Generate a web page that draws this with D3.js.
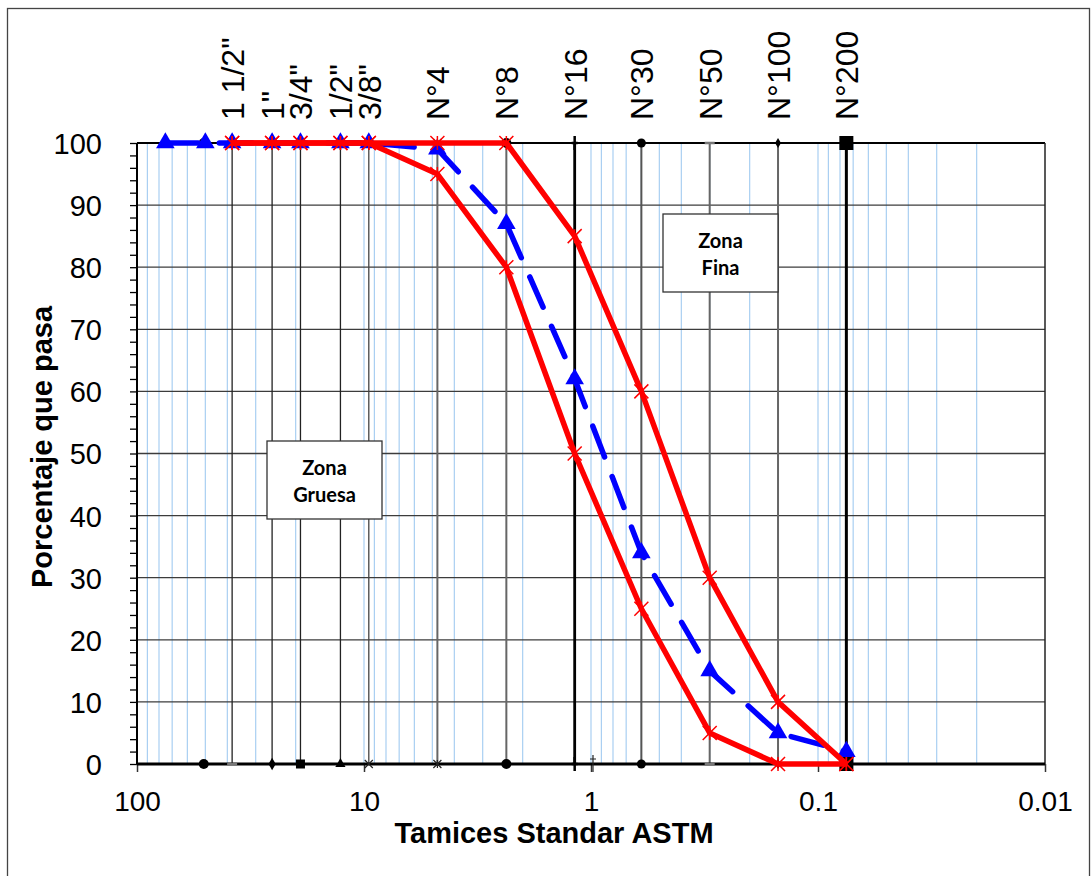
<!DOCTYPE html>
<html>
<head>
<meta charset="utf-8">
<script src="https://cdn.jsdelivr.net/npm/d3@7"></script>
<style>
  html, body { margin: 0; padding: 0; background: #fff; }
  svg { display: block; }
  text { font-family: "Liberation Sans", Arial, sans-serif; }
</style>
</head>
<body>
<svg id="chart" width="1091" height="876"></svg>
<script>
// ---------------- DATA ----------------
const sieveLabels = ['1 1/2"', '1"', '3/4"', '1/2"', '3/8"', 'N°4', 'N°8', 'N°16', 'N°30', 'N°50', 'N°100', 'N°200'];
const sieveSizes  = [38.1, 25.4, 19.05, 12.7, 9.525, 4.75, 2.36, 1.18, 0.6, 0.3, 0.15, 0.075];

// sample curve (blue dashed)
const sampleSizes   = [75, 50, 38.1, 25.4, 19.05, 12.7, 9.525, 4.75, 2.36, 1.18, 0.6, 0.3, 0.15, 0.075];
const samplePassing = [100, 100, 100, 100, 100, 100, 100, 99, 87, 62, 34, 15, 5, 2];

// limit curves (red)
const limitSizes  = [38.1, 25.4, 19.05, 12.7, 9.525, 4.75, 2.36, 1.18, 0.6, 0.3, 0.15, 0.075];
const upperLimit  = [100, 100, 100, 100, 100, 100, 100, 85, 60, 30, 10, 0];
const lowerLimit  = [100, 100, 100, 100, 100, 95, 80, 50, 25, 5, 0, 0];

// auxiliary vertical "sieve" series (each from 0 to 100) with their marker shapes
const auxSizes   = [50.8, 38.1, 25.4, 19.05, 12.7, 9.525, 4.75, 2.36, 1.18, 0.6, 0.3, 0.15, 0.075];
const auxMarkers = ['circle', 'dash', 'diamond', 'square', 'triangle', 'x', 'star', 'circle', 'plus', 'circle', 'dash', 'diamondS', 'squareL'];
const auxHasLine = [false, true, true, true, true, true, true, true, true, true, true, true, true];
const extraMarkerSizes = [0.98];

const xTickValues = [100, 10, 1, 0.1, 0.01];
const xTickLabels = ['100', '10', '1', '0.1', '0.01'];
const yTickValues = [0, 10, 20, 30, 40, 50, 60, 70, 80, 90, 100];

const xTitle = 'Tamices Standar ASTM';
const yTitle = 'Porcentaje que pasa';
const boxCoarse = ['Zona', 'Gruesa'];
const boxFine = ['Zona', 'Fina'];

// ---------------- LAYOUT ----------------
const svg = d3.select('#chart');
const L = 137, R = 1045, T = 143, B = 764;
const x = d3.scaleLog().domain([100, 0.01]).range([L, R]);
const y = d3.scaleLinear().domain([0, 100]).range([B, T]);

// outer frame
svg.append('rect').attr('x', 7.5).attr('y', 8.5).attr('width', 1082).attr('height', 890)
  .attr('fill', 'none').attr('stroke', '#444').attr('stroke-width', 1.3);

// light-blue log gridlines
const logVals = [];
for (let k = -2; k <= 1; k++) for (let m = 1; m <= 9; m++) {
  const v = m * Math.pow(10, k);
  if (v > 0.01 && v < 100) logVals.push(v);
}
svg.append('g').selectAll('line').data(logVals).join('line')
  .attr('x1', d => x(d)).attr('x2', d => x(d)).attr('y1', T).attr('y2', B)
  .attr('stroke', '#a9cff2').attr('stroke-width', 1.2);

// horizontal gridlines
svg.append('g').selectAll('line').data(yTickValues.filter(v => v > 0 && v < 100)).join('line')
  .attr('x1', L).attr('x2', R).attr('y1', d => y(d)).attr('y2', d => y(d))
  .attr('stroke', '#3c3c3c').attr('stroke-width', 1.3);

// sieve vertical lines
const lineStyle = {
  38.1: ['#222', 1.3], 25.4: ['#222', 1.3], 19.05: ['#222', 1.3], 12.7: ['#222', 1.3], 9.525: ['#444', 1.3],
  4.75: ['#666', 2], 2.36: ['#666', 2], 1.18: ['#000', 2.8], 0.6: ['#555', 2], 0.3: ['#666', 2],
  0.15: ['#666', 2], 0.075: ['#000', 3]
};
const auxData = auxSizes.map((s, i) => ({ s, m: auxMarkers[i], line: auxHasLine[i] }));
svg.append('g').selectAll('line').data(auxData.filter(d => d.line)).join('line')
  .attr('x1', d => x(d.s)).attr('x2', d => x(d.s)).attr('y1', y(0)).attr('y2', y(100))
  .attr('stroke', d => lineStyle[d.s][0]).attr('stroke-width', d => lineStyle[d.s][1]);

// plot frame
svg.append('line').attr('x1', L).attr('x2', R).attr('y1', T).attr('y2', T).attr('stroke', '#000').attr('stroke-width', 2);
svg.append('line').attr('x1', R).attr('x2', R).attr('y1', T).attr('y2', B).attr('stroke', '#222').attr('stroke-width', 1.5);
svg.append('line').attr('x1', L).attr('x2', L).attr('y1', T).attr('y2', B).attr('stroke', '#000').attr('stroke-width', 2);

// y axis (ticks every 2, labels every 10)
const yAxis = d3.axisLeft(y).tickValues(d3.range(0, 101, 2)).tickSize(7)
  .tickFormat(d => yTickValues.includes(d) ? d : '');
const gy = svg.append('g').attr('transform', `translate(${L},0)`).call(yAxis);
gy.select('.domain').remove();
gy.selectAll('.tick line').attr('stroke', '#000').attr('stroke-width', 1.3);
gy.selectAll('.tick text').attr('x', -35).attr('dy', '0.36em')
  .style('font-family', '"Liberation Sans", Arial, sans-serif').style('font-size', '29px').attr('fill', '#000');

// x axis
const xAxis = d3.axisBottom(x).tickValues(xTickValues).tickSize(8)
  .tickFormat((d, i) => xTickLabels[i]);
const gx = svg.append('g').attr('transform', `translate(0,${B})`).call(xAxis);
gx.select('.domain').remove();
gx.selectAll('.tick line').attr('stroke', '#333').attr('stroke-width', 1.5);
gx.selectAll('.tick text').attr('y', 47).attr('dy', 0)
  .style('font-family', '"Liberation Sans", Arial, sans-serif').style('font-size', '28px').attr('fill', '#000');
svg.append('line').attr('x1', L).attr('x2', R).attr('y1', B).attr('y2', B).attr('stroke', '#000').attr('stroke-width', 3);

// top sieve labels
svg.append('g').selectAll('text').data(sieveSizes).join('text')
  .attr('transform', (d, i) => `translate(${x(d) + 12},120) rotate(-90)`)
  .attr('text-anchor', 'start')
  .style('font-size', '32px').attr('fill', '#000')
  .text((d, i) => sieveLabels[i]);

// aux markers (at 0 and 100)
function markerPath(m) {
  switch (m) {
    case 'dash': return 'M-5,0L5,0';
    case 'x': return 'M-4,-4L4,4M-4,4L4,-4';
    case 'star': return 'M-4,-4L4,4M-4,4L4,-4M0,-4L0,4';
    case 'plus': return 'M0,-7L0,7M-3,0L3,0';
    case 'dagger': return 'M0,-9L0,8M-3,-5L3,-5';
    default: return null;
  }
}
const auxPts = [];
auxData.forEach(d => { auxPts.push({ s: d.s, v: 0, m: d.m }); auxPts.push({ s: d.s, v: 100, m: d.m }); });
extraMarkerSizes.forEach(s => auxPts.push({ s, v: 0, m: 'dagger' }));
const gm = svg.append('g');
auxPts.forEach(p => {
  const g = gm.append('g').attr('transform', `translate(${x(p.s)},${y(p.v)})`);
  if (p.m === 'circle') g.append('circle').attr('r', p.s === 0.6 ? 4.5 : 5).attr('fill', '#000');
  else if (p.m === 'diamond') g.append('path').attr('d', d3.symbol(d3.symbolDiamond, 45)()).attr('fill', '#000');
  else if (p.m === 'diamondS') g.append('path').attr('d', d3.symbol(d3.symbolDiamond, 30)()).attr('fill', '#000');
  else if (p.m === 'square') g.append('rect').attr('x', -4.5).attr('y', -4.5).attr('width', 9).attr('height', 9).attr('fill', '#000');
  else if (p.m === 'squareL') g.append('rect').attr('x', -7).attr('y', -7).attr('width', 14).attr('height', 14).attr('fill', '#000');
  else if (p.m === 'triangle') g.append('path').attr('d', d3.symbol(d3.symbolTriangle, 45)()).attr('fill', '#000');
  else {
    g.append('path').attr('d', markerPath(p.m)).attr('fill', 'none')
      .attr('stroke', p.m === 'dash' ? '#777' : (p.m === 'plus' ? '#000' : '#222'))
      .attr('stroke-width', p.m === 'dash' ? 2.5 : (p.m === 'plus' ? 2.5 : 1.2));
  }
});

// sample curve (blue dashed)
const sample = sampleSizes.map((s, i) => ({ s, v: samplePassing[i] }));
const lineGen = d3.line().x(d => x(d.s)).y(d => y(d.v));
svg.append('path').datum(sample).attr('d', lineGen)
  .attr('fill', 'none').attr('stroke', '#0000ff').attr('stroke-width', 5.5)
  .attr('stroke-dasharray', '33 21').attr('stroke-linecap', 'round').attr('stroke-linejoin', 'round');
svg.append('g').selectAll('path').data(sample).join('path')
  .attr('transform', d => `translate(${x(d.s)},${y(d.v)})`)
  .attr('d', d3.symbol(d3.symbolTriangle, 150)()).attr('fill', '#0000ff');

// limits (red)
[upperLimit, lowerLimit].forEach(arr => {
  const data = limitSizes.map((s, i) => ({ s, v: arr[i] }));
  svg.append('path').datum(data).attr('d', lineGen)
    .attr('fill', 'none').attr('stroke', '#ff0000').attr('stroke-width', 5.5).attr('stroke-linejoin', 'round');
  svg.append('g').selectAll('path').data(data).join('path')
    .attr('transform', d => `translate(${x(d.s)},${y(d.v)})`)
    .attr('d', 'M-7,-7L7,7M-7,7L7,-7M0,-7L0,7')
    .attr('fill', 'none').attr('stroke', '#ff0000').attr('stroke-width', 1.5);
});

// text boxes
function box(x0, y0, w, h, lines) {
  svg.append('rect').attr('x', x0).attr('y', y0).attr('width', w).attr('height', h)
    .attr('fill', '#fff').attr('stroke', '#333').attr('stroke-width', 1.3);
  lines.forEach((t, i) => {
    svg.append('text').attr('x', x0 + w / 2).attr('y', y0 + 34 + i * 27).attr('text-anchor', 'middle')
      .style('font-family', 'Lato, "Open Sans", sans-serif').style('font-weight', 700).style('font-size', '20px')
      .attr('fill', '#000').text(t);
  });
}
box(267, 441, 115, 78, boxCoarse);
box(663, 214, 115, 78, boxFine);

// axis titles
svg.append('text').attr('x', 554).attr('y', 843).attr('text-anchor', 'middle')
  .style('font-weight', 700).style('font-size', '29px').attr('fill', '#000').text(xTitle);
svg.append('text').attr('transform', 'translate(52,447) rotate(-90)').attr('text-anchor', 'middle')
  .style('font-weight', 700).style('font-size', '29px').attr('fill', '#000').text(yTitle);
</script>
</body>
</html>
